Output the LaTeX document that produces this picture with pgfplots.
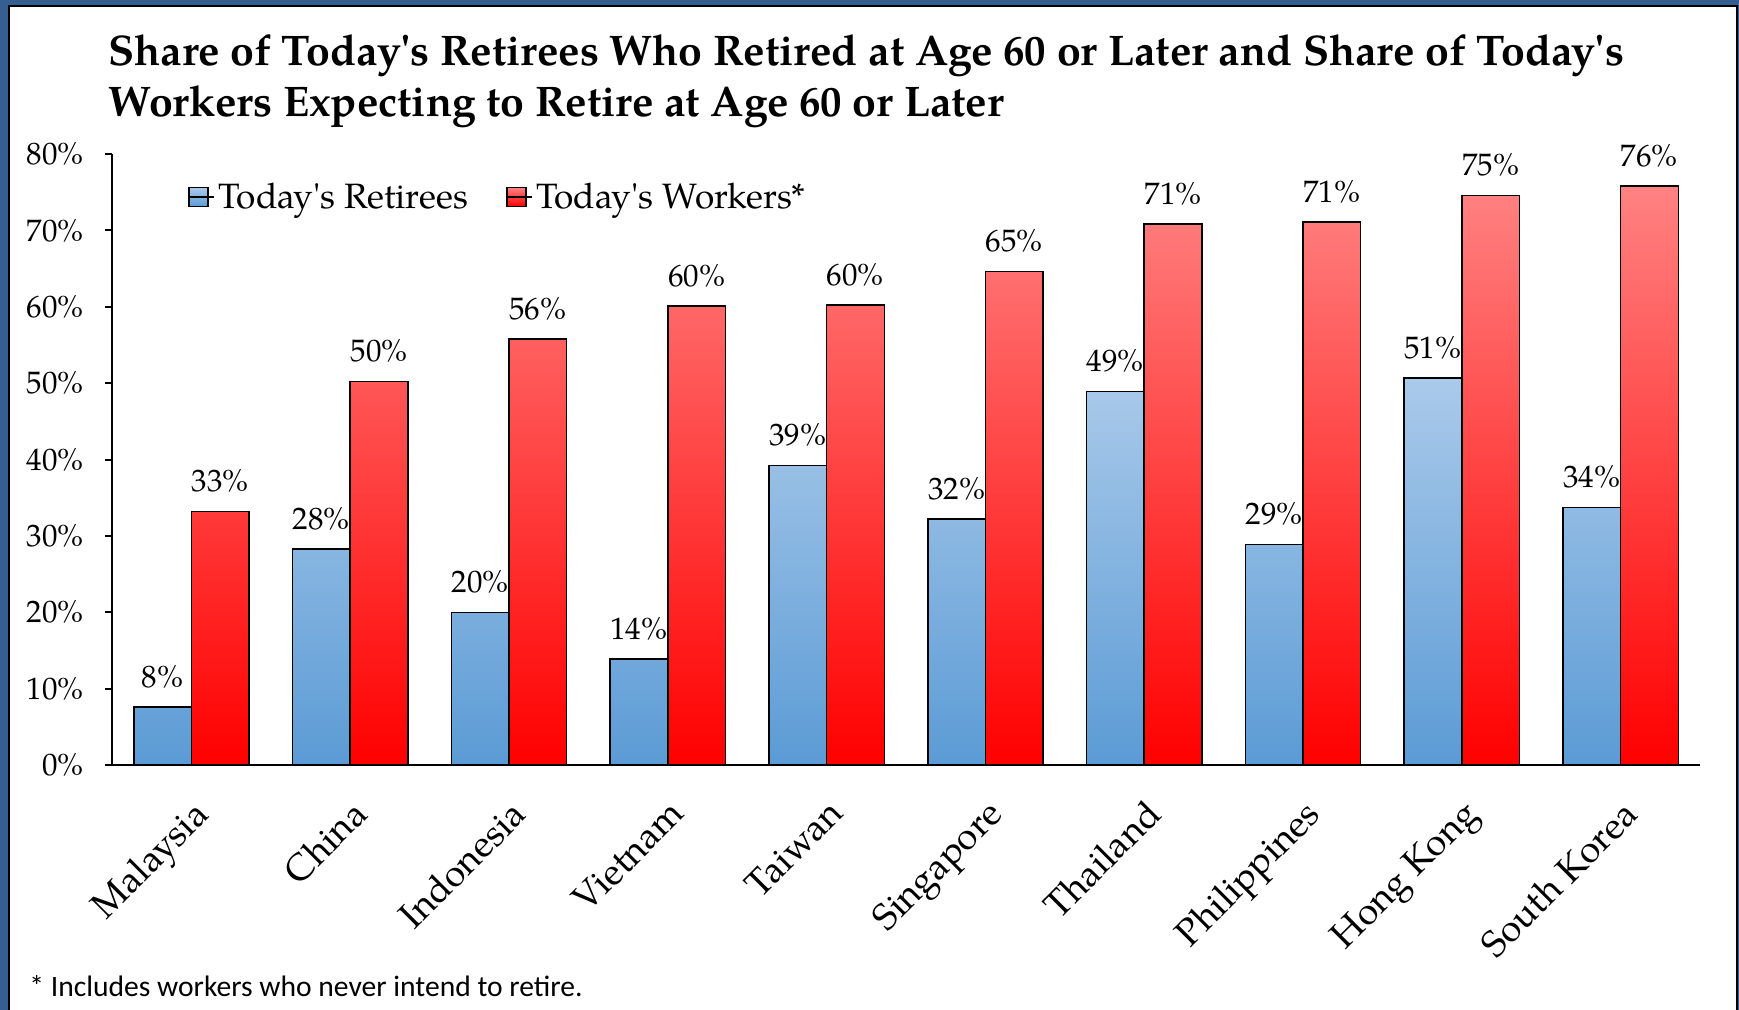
\documentclass[border=0pt]{standalone}
\usepackage{pgfplots}
\pgfplotsset{compat=1.18}
\usepackage{fontspec}
\setmainfont{TeX Gyre Pagella}
\newfontfamily\calib{Carlito}
\definecolor{frameblue}{HTML}{365F91}
\definecolor{bluefull}{HTML}{5B9BD5}
\definecolor{bluelight}{HTML}{AACAEA}
\definecolor{bluemid}{HTML}{7CAEDF}
\definecolor{redfull}{HTML}{FF0000}
\definecolor{redlight}{HTML}{FF8282}
\definecolor{redmid}{HTML}{FF3C3C}
\newcommand{\tickfont}{\fontsize{15.5}{18}\selectfont}
\newcommand{\legfont}{\fontsize{17.6}{20}\selectfont}
\newcommand{\xlabfont}{\fontsize{18.5}{21}\selectfont}
\newcommand{\q}{\textquotesingle}
\begin{document}
\begin{tikzpicture}
\useasboundingbox (0,0) rectangle (869.5pt,-505pt);
\fill[frameblue] (0,0) rectangle (869.5pt,-505pt);
\fill[white] (4.5pt,-3pt) rectangle (868.5pt,-505pt);
\draw[black, line width=1pt] (4.5pt,-505pt) -- (4.5pt,-3pt) -- (868.5pt,-3pt) -- (868.5pt,-505pt);
\node[anchor=base west, inner sep=0pt, font=\bfseries\fontsize{21.4}{25}\selectfont] at (54pt,-33pt) {Share of Today\q s Retirees Who Retired at Age 60 or Later and Share of Today\q s};
\node[anchor=base west, inner sep=0pt, font=\bfseries\fontsize{21.4}{25}\selectfont] at (54pt,-58.5pt) {Workers Expecting to Retire at Age 60 or Later};
\node[anchor=base west, inner sep=0pt, font=\calib\fontsize{14.8}{17}\selectfont] at (14.5pt,-498pt) {* Includes workers who never intend to retire.};
\begin{axis}[
  scale only axis, width=794pt, height=305.5pt,
  at={(56pt,-382.5pt)}, anchor=south west,
  xmin=-0.5, xmax=9.5, ymin=0, ymax=80,
  axis x line=bottom, axis y line=left,
  axis line style={-, line width=1pt, black},
  ytick={0,10,...,80},
  yticklabel={\pgfmathprintnumber{\tick}\%},
  /pgf/number format/assume math mode=true,
  tick align=outside, major tick length=3.5pt,
  ytick style={line width=1pt, black},
  xtick={0,...,9},
  xtick style={draw=none},
  xticklabels={Malaysia,China,Indonesia,Vietnam,Taiwan,Singapore,Thailand,Philippines,Hong Kong,South Korea},
  xticklabel style={yshift=-12.5pt, rotate=45, anchor=north east, inner sep=0pt, font=\xlabfont},
  yticklabel style={anchor=east, inner sep=0pt, xshift=-10.5pt, font=\tickfont},
  ybar, bar width=0.363,
  legend image code/.code={\draw[#1, line width=0.6pt] (0pt,-4.75pt) rectangle (9.5pt,4.75pt); \path (0pt,0pt) -- (12.5pt,0pt);},
  legend style={at={(0.044,0.9296)}, anchor=west, draw=none, fill=none,
    legend columns=2, font=\legfont,
    /tikz/every even column/.append style={column sep=17pt},
    nodes={inner sep=2pt}},
  legend cell align=left,
  nodes near coords={\pgfmathprintnumber[fixed,precision=0]{\pgfplotspointmeta}\%},
  every node near coord/.append style={font=\tickfont, anchor=south, yshift=6pt},
]
\addplot[ybar, bar shift=-0.1815, draw=black, line width=0.75pt, top color=bluelight, middle color=bluemid, bottom color=bluefull, nodes near coords=\empty] coordinates {
(0,7.6) (1,28.3) (2,20.0) (3,13.9) (4,39.2) (5,32.2) (6,48.9) (7,28.9) (8,50.7) (9,33.7)};
\addlegendentry{Today\q s Retirees}
\addplot[ybar, bar shift=0.1815, draw=black, line width=0.75pt, top color=redlight, middle color=redmid, bottom color=redfull, nodes near coords=\empty] coordinates {
(0,33.2) (1,50.2) (2,55.8) (3,60.1) (4,60.25) (5,64.6) (6,70.85) (7,71.1) (8,74.6) (9,75.8)};
\addlegendentry{Today\q s Workers*}
\addplot[ybar, bar shift=-0.1815, draw=none, fill=none, forget plot] coordinates {
(0,7.6) (1,28.3) (2,20.0) (3,13.9) (4,39.2) (5,32.2) (6,48.9) (7,28.9) (8,50.7) (9,33.7)};
\addplot[ybar, bar shift=0.1815, draw=none, fill=none, forget plot] coordinates {
(0,33.2) (1,50.2) (2,55.8) (3,60.1) (4,60.25) (5,64.6) (6,70.85) (7,71.1) (8,74.6) (9,75.8)};
\end{axis}
\end{tikzpicture}
\end{document}
